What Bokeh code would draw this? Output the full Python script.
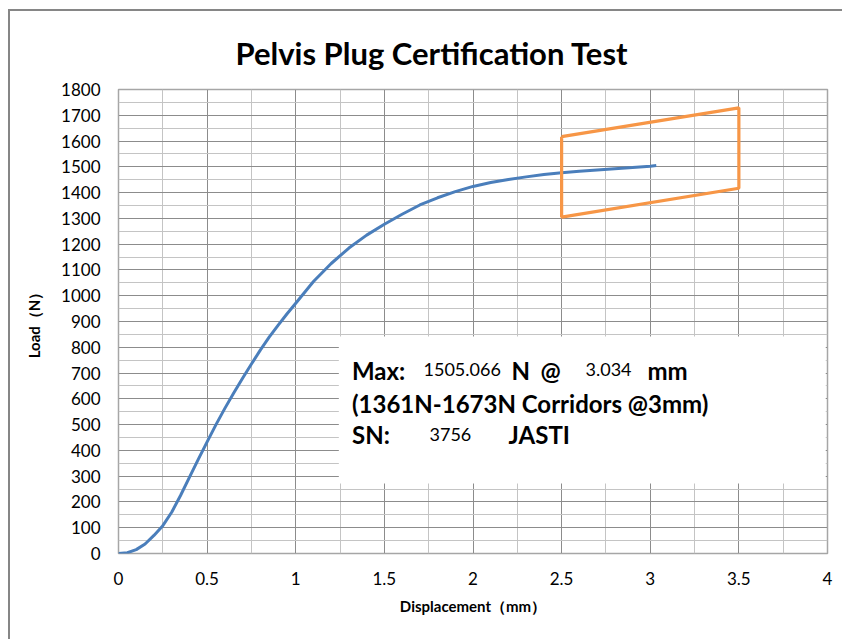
from bokeh.plotting import figure
from bokeh.models import Range1d, SingleIntervalTicker, CustomJSTickFormatter, Label
from bokeh.embed import file_html
from bokeh.resources import INLINE

# ---------------- data ----------------
title_text = "Pelvis Plug Certification Test"
x_label = "Displacement（mm）"
y_label = "Load（N）"

disp = [0, 0.05, 0.1, 0.15, 0.2, 0.25, 0.3, 0.35, 0.4, 0.45, 0.5, 0.55, 0.6,
        0.65, 0.7, 0.75, 0.8, 0.85, 0.9, 0.95, 1.0, 1.1, 1.2, 1.3, 1.4, 1.5,
        1.6, 1.7, 1.8, 1.9, 2.0, 2.1, 2.2, 2.3, 2.4, 2.5, 2.6, 2.7, 2.8, 2.9,
        3.0, 3.034]
load = [0, 3, 15, 37, 70, 108, 160, 225, 295, 365, 433, 500, 563,
        623, 680, 735, 789, 839, 885, 929, 971, 1055, 1125, 1185, 1235, 1277,
        1316, 1352, 1380, 1404, 1424, 1439, 1451, 1461, 1470, 1477, 1483, 1488, 1493, 1497,
        1502, 1505.066]

corridor_x = [2.5, 3.5, 3.5, 2.5, 2.5]
corridor_y = [1617, 1729, 1417, 1305, 1617]

max_load = "1505.066"
max_disp = "3.034"
corridor_text = "(1361N-1673N Corridors @3mm)"
serial_no = "3756"
operator = "JASTI"

x_range = (0, 4)
y_range = (0, 1800)

# ---------------- figure ----------------
FONT = "Lato"

p = figure(width=834, height=630, output_backend="svg", toolbar_location=None,
           x_range=Range1d(*x_range), y_range=Range1d(*y_range),
           min_border_left=108, min_border_right=17, min_border_top=78,
           min_border_bottom=88, title=title_text)
# outer chart border (only left and top edges fall inside the window)
p.styles = {"margin-left": "8px", "margin-top": "9px",
            "border-left": "2px solid #868686", "border-top": "2px solid #868686",
            "border-right": "none", "border-bottom": "none"}

p.title.align = "left"
p.title.offset = 117
p.title.text_font = FONT
p.title.text_font_style = "bold"
p.title.text_font_size = "31px"
p.title.text_color = "black"
p.title.standoff = 36

p.outline_line_color = "#a6a6a6"
p.outline_line_width = 1.5
p.background_fill_color = "white"
p.border_fill_color = "white"

p.xaxis.ticker = SingleIntervalTicker(interval=0.5, num_minor_ticks=2)
p.yaxis.ticker = SingleIntervalTicker(interval=100, num_minor_ticks=2)
p.xaxis.formatter = CustomJSTickFormatter(code="return String(tick);")

for ax in (p.xaxis, p.yaxis):
    ax.axis_line_color = None
    ax.major_tick_line_color = None
    ax.minor_tick_line_color = None
    ax.major_tick_out = 0
    ax.major_tick_in = 0
    ax.major_label_text_font = FONT
    ax.major_label_text_font_size = "17px"
    ax.major_label_text_color = "black"
    ax.axis_label_text_font = FONT
    ax.axis_label_text_font_style = "bold"
    ax.axis_label_text_font_size = "15px"
    ax.axis_label_text_color = "black"

p.xaxis.axis_label = x_label
p.yaxis.axis_label = y_label
p.xaxis.major_label_standoff = 14
p.xaxis.axis_label_standoff = 9
p.yaxis.major_label_standoff = 14
p.yaxis.axis_label_standoff = 15

for g in (p.xgrid, p.ygrid):
    g.grid_line_color = "#8c8c8c"
    g.grid_line_width = 1
    g.minor_grid_line_color = "#c4c4c4"
    g.minor_grid_line_width = 1

# white text box covering the grid
box_left, box_right, box_bottom, box_top = 1.243, 3.99, 272, 842
p.quad(left=[box_left], right=[box_right], bottom=[box_bottom], top=[box_top],
       fill_color="white", line_color=None)

p.line(disp, load, line_color="#4A7EBB", line_width=3)
p.line(corridor_x, corridor_y, line_color="#F79646", line_width=3.2)

# ---------------- annotation text ----------------
def px2x(px):
    return (px - 118) / 177.25

def py2y(py):
    return (553 - py) / 0.25778

BOLD = "24px"
NUM = "18px"
pieces = [
    ("Max:", 351.5, 370, BOLD, "bold"),
    (max_load, 423, 369, NUM, "normal"),
    ("N", 511, 370, BOLD, "bold"),
    ("@", 540, 370, BOLD, "bold"),
    (max_disp, 585, 369, NUM, "normal"),
    ("mm", 647, 370, BOLD, "bold"),
    (corridor_text, 351.5, 403, BOLD, "bold"),
    ("SN:", 351.5, 434, BOLD, "bold"),
    (serial_no, 429, 434, NUM, "normal"),
    (operator, 508, 434, BOLD, "bold"),
]
for txt, px, py, size, style in pieces:
    p.add_layout(Label(x=px2x(px), y=py2y(py), text=txt, text_font=FONT,
                       text_font_size=size, text_font_style=style,
                       text_color="black", text_baseline="alphabetic",
                       text_align="left"))

open("out.html", "w").write(file_html(p, INLINE))
